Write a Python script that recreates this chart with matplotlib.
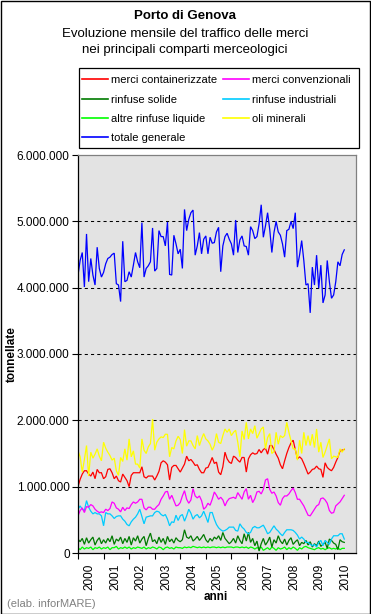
import matplotlib
matplotlib.use("Agg")
import matplotlib.pyplot as plt
from matplotlib.ticker import FuncFormatter, FixedLocator
from matplotlib.patches import Rectangle

plt.rcParams['font.family'] = ['Liberation Sans', 'DejaVu Sans']

# ---- data (million tonnes, monthly Jan 2000 - Jun 2010) ----
years = ["2000", "2001", "2002", "2003", "2004", "2005", "2006", "2007", "2008", "2009", "2010"]

totale_generale = [
    4.19, 4.41, 4.53, 4.01, 4.81, 4.09, 4.44, 4.19, 4.04, 4.61, 4.29, 4.16,
    4.23, 4.36, 4.44, 4.46, 4.50, 4.52, 4.06, 4.04, 3.79, 4.70, 4.09, 4.11,
    4.24, 4.16, 4.34, 4.53, 4.39, 4.30, 4.98, 4.16, 4.29, 4.33, 4.39, 4.90,
    4.25, 4.29, 4.86, 4.77, 4.77, 4.63, 4.99, 4.20, 4.19, 4.79, 4.66, 4.51,
    4.58, 4.29, 5.18, 4.86, 5.03, 5.13, 5.17, 4.49, 4.63, 4.83, 4.51, 4.73,
    4.78, 4.51, 4.76, 4.67, 4.68, 4.84, 4.91, 4.24, 4.63, 4.77, 4.82, 4.73,
    4.66, 4.49, 5.02, 4.53, 4.72, 4.78, 4.63, 4.62, 4.49, 4.92, 4.86, 4.74,
    4.77, 4.96, 5.25, 4.76, 4.93, 5.13, 4.88, 4.53, 4.83, 5.00, 4.84, 4.79,
    4.66, 4.46, 4.86, 4.88, 5.00, 4.89, 5.13, 4.31, 4.49, 4.71, 4.41, 4.04,
    4.06, 3.62, 4.31, 4.04, 4.49, 3.99, 4.34, 3.77, 3.89, 4.41, 4.09, 3.84,
    3.89, 4.09, 4.39, 4.33, 4.50, 4.57,
]

oli_minerali = [
    1.54, 1.45, 1.22, 1.41, 1.62, 1.16, 1.52, 1.43, 1.49, 1.57, 1.46, 1.39,
    1.67, 1.58, 1.52, 1.47, 1.40, 1.43, 1.24, 1.17, 1.44, 1.38, 1.57, 1.40,
    1.72, 1.45, 1.54, 1.34, 1.34, 1.28, 1.72, 1.55, 1.50, 1.60, 1.65, 2.02,
    1.55, 1.67, 1.72, 1.75, 1.74, 1.79, 1.79, 1.45, 1.59, 1.57, 1.69, 1.76,
    1.71, 1.50, 1.86, 1.61, 1.69, 1.69, 1.62, 1.57, 1.77, 1.62, 1.72, 1.80,
    1.72, 1.69, 1.64, 1.55, 1.62, 1.80, 1.67, 1.65, 1.77, 1.87, 1.82, 1.87,
    1.77, 1.82, 1.85, 1.67, 1.45, 1.84, 1.71, 1.97, 1.72, 1.87, 1.80, 1.92,
    1.73, 1.80, 1.87, 1.90, 1.57, 1.74, 1.80, 1.50, 1.53, 1.82, 1.64, 1.77,
    1.74, 1.77, 1.97, 1.82, 1.69, 1.57, 1.57, 1.40, 1.70, 1.50, 1.82, 1.62,
    1.77, 1.62, 1.79, 1.59, 1.87, 1.52, 1.67, 1.44, 1.52, 1.62, 1.72, 1.42,
    1.46, 1.45, 1.44, 1.57, 1.52, 1.57,
]

merci_containerizzate = [
    1.00, 1.11, 1.19, 1.24, 1.24, 1.19, 1.16, 1.22, 1.12, 1.26, 1.21, 1.21,
    1.12, 1.15, 1.26, 1.27, 1.21, 1.12, 1.16, 1.09, 1.07, 1.19, 1.14, 1.09,
    1.00, 1.17, 1.21, 1.21, 1.21, 1.21, 1.30, 1.15, 1.13, 1.16, 1.16, 1.16,
    1.10, 1.16, 1.23, 1.36, 1.39, 1.37, 1.33, 1.10, 1.29, 1.32, 1.32, 1.27,
    1.22, 1.28, 1.34, 1.46, 1.39, 1.41, 1.37, 1.32, 1.33, 1.26, 1.21, 1.21,
    1.28, 1.29, 1.36, 1.44, 1.35, 1.37, 1.22, 1.18, 1.30, 1.52, 1.42, 1.37,
    1.35, 1.46, 1.44, 1.40, 1.37, 1.44, 1.44, 1.22, 1.42, 1.48, 1.51, 1.49,
    1.50, 1.56, 1.51, 1.56, 1.58, 1.49, 1.62, 1.62, 1.56, 1.49, 1.43, 1.33,
    1.27, 1.39, 1.50, 1.59, 1.66, 1.70, 1.56, 1.42, 1.45, 1.42, 1.35, 1.27,
    1.19, 1.22, 1.26, 1.27, 1.31, 1.27, 1.26, 1.14, 1.36, 1.29, 1.26, 1.24,
    1.29, 1.37, 1.44, 1.54, 1.55, 1.56,
]

merci_convenzionali = [
    0.56, 0.64, 0.68, 0.61, 0.70, 0.69, 0.73, 0.71, 0.66, 0.63, 0.61, 0.62,
    0.61, 0.66, 0.64, 0.67, 0.77, 0.75, 0.68, 0.66, 0.62, 0.69, 0.64, 0.68,
    0.67, 0.73, 0.77, 0.75, 0.77, 0.81, 0.81, 0.68, 0.65, 0.69, 0.69, 0.66,
    0.66, 0.70, 0.73, 0.81, 0.86, 0.92, 0.93, 0.81, 0.87, 0.79, 0.71, 0.72,
    0.76, 0.86, 0.94, 0.81, 0.75, 0.80, 0.97, 0.86, 0.83, 0.86, 0.79, 0.66,
    0.69, 0.75, 0.72, 0.81, 0.92, 0.87, 0.81, 0.84, 0.80, 0.71, 0.78, 0.82,
    0.83, 0.84, 0.82, 0.91, 0.86, 0.81, 0.92, 0.97, 0.81, 0.87, 0.76, 0.82,
    0.92, 0.93, 0.89, 0.96, 1.10, 1.12, 0.96, 0.90, 0.92, 0.86, 0.76, 0.72,
    0.82, 0.86, 0.86, 0.89, 0.94, 0.98, 0.91, 0.81, 0.81, 0.76, 0.71, 0.64,
    0.57, 0.56, 0.61, 0.66, 0.71, 0.73, 0.82, 0.83, 0.80, 0.75, 0.64, 0.60,
    0.61, 0.71, 0.74, 0.77, 0.82, 0.87,
]

rinfuse_industriali = [
    0.66, 0.71, 0.66, 0.64, 0.79, 0.69, 0.63, 0.59, 0.61, 0.59, 0.59, 0.56,
    0.41, 0.61, 0.59, 0.59, 0.56, 0.52, 0.55, 0.56, 0.56, 0.51, 0.48, 0.43,
    0.41, 0.47, 0.51, 0.54, 0.59, 0.66, 0.55, 0.44, 0.54, 0.55, 0.56, 0.56,
    0.61, 0.63, 0.62, 0.58, 0.56, 0.58, 0.51, 0.41, 0.47, 0.46, 0.57, 0.49,
    0.56, 0.58, 0.48, 0.56, 0.66, 0.60, 0.51, 0.56, 0.58, 0.53, 0.56, 0.63,
    0.55, 0.46, 0.61, 0.61, 0.51, 0.43, 0.38, 0.35, 0.33, 0.34, 0.36, 0.39,
    0.39, 0.39, 0.34, 0.33, 0.44, 0.39, 0.36, 0.31, 0.29, 0.31, 0.38, 0.40,
    0.38, 0.38, 0.40, 0.42, 0.36, 0.29, 0.31, 0.36, 0.41, 0.36, 0.33, 0.29,
    0.26, 0.31, 0.35, 0.35, 0.35, 0.34, 0.31, 0.27, 0.21, 0.24, 0.21, 0.16,
    0.16, 0.13, 0.11, 0.13, 0.09, 0.16, 0.19, 0.11, 0.19, 0.16, 0.13, 0.21,
    0.26, 0.26, 0.26, 0.29, 0.29, 0.21,
]

rinfuse_solide = [
    0.21, 0.17, 0.22, 0.13, 0.23, 0.15, 0.20, 0.24, 0.12, 0.19, 0.23, 0.14,
    0.20, 0.15, 0.22, 0.17, 0.26, 0.13, 0.21, 0.18, 0.24, 0.14, 0.22, 0.16,
    0.25, 0.12, 0.23, 0.18, 0.26, 0.15, 0.21, 0.25, 0.11, 0.22, 0.30, 0.17,
    0.20, 0.14, 0.24, 0.16, 0.22, 0.13, 0.25, 0.17, 0.21, 0.15, 0.23, 0.19,
    0.17, 0.20, 0.35, 0.24, 0.22, 0.26, 0.18, 0.21, 0.25, 0.19, 0.23, 0.28,
    0.20, 0.16, 0.22, 0.18, 0.24, 0.21, 0.26, 0.19, 0.31, 0.22, 0.18, 0.14,
    0.17, 0.22, 0.15, 0.26, 0.19, 0.14, 0.29, 0.18, 0.31, 0.16, 0.22, 0.11,
    0.18, 0.03, 0.14, 0.22, 0.12, 0.17, 0.24, 0.09, 0.20, 0.15, 0.26, 0.18,
    0.14, 0.21, 0.12, 0.19, 0.23, 0.13, 0.17, 0.20, 0.11, 0.16, 0.14, 0.19,
    0.12, 0.17, 0.09, 0.14, 0.11, 0.18, 0.10, 0.13, 0.16, 0.07, 0.21, 0.19,
    0.15, 0.13, 0.05, 0.20, 0.17, 0.16,
]

altre_rinfuse_liquide = [
    0.08, 0.05, 0.09, 0.06, 0.08, 0.07, 0.09, 0.05, 0.08, 0.07, 0.09, 0.06,
    0.08, 0.07, 0.09, 0.05, 0.08, 0.08, 0.10, 0.06, 0.08, 0.07, 0.09, 0.07,
    0.09, 0.06, 0.08, 0.07, 0.09, 0.08, 0.07, 0.09, 0.06, 0.08, 0.07, 0.09,
    0.08, 0.06, 0.09, 0.08, 0.05, 0.08, 0.09, 0.07, 0.08, 0.06, 0.09, 0.08,
    0.08, 0.07, 0.09, 0.08, 0.09, 0.08, 0.10, 0.09, 0.08, 0.09, 0.08, 0.09,
    0.08, 0.09, 0.08, 0.09, 0.09, 0.08, 0.09, 0.08, 0.09, 0.08, 0.09, 0.09,
    0.09, 0.08, 0.09, 0.09, 0.08, 0.09, 0.08, 0.09, 0.07, 0.09, 0.08, 0.06,
    0.08, 0.07, 0.09, 0.04, 0.06, 0.08, 0.05, 0.09, 0.07, 0.04, 0.08, 0.06,
    0.07, 0.09, 0.05, 0.08, 0.06, 0.09, 0.07, 0.04, 0.08, 0.06, 0.09, 0.10,
    0.08, 0.07, 0.06, 0.05, 0.07, 0.08, 0.06, 0.07, 0.05, 0.07, 0.08, 0.06,
    0.07, 0.06, 0.08, 0.05, 0.07, 0.07,
]

series = [
    ("merci containerizzate", merci_containerizzate, "#FF0000"),
    ("merci convenzionali", merci_convenzionali, "#FF00FF"),
    ("rinfuse solide", rinfuse_solide, "#007A00"),
    ("rinfuse industriali", rinfuse_industriali, "#00CCFF"),
    ("altre rinfuse liquide", altre_rinfuse_liquide, "#00FF00"),
    ("oli minerali", oli_minerali, "#FFFF00"),
    ("totale generale", totale_generale, "#0000FF"),
]
draw_order = ["altre rinfuse liquide", "rinfuse solide", "rinfuse industriali",
              "merci convenzionali", "merci containerizzate", "oli minerali", "totale generale"]

W, H = 371, 614
fig = plt.figure(figsize=(W / 100, H / 100), dpi=100)
fig.patch.set_facecolor("white")
fig.add_artist(Rectangle((0.5 / W, 0.5 / H), 1 - 1.5 / W, 1 - 1.5 / H, transform=fig.transFigure,
                         fill=False, edgecolor="black", linewidth=1.0))

ax_l, ax_r, ax_t, ax_b = 78, 356, 155, 553
ax = fig.add_axes([ax_l / W, 1 - ax_b / H, (ax_r - ax_l) / W, (ax_b - ax_t) / H])
ax.set_facecolor("#E3E3E3")

handles = {}
for name in draw_order:
    for lab, vals, col in series:
        if lab == name:
            x = list(range(len(vals)))
            y = [v * 1e6 for v in vals]
            ln, = ax.plot(x, y, color=col, linewidth=0.9, label=lab, solid_joinstyle="miter")
            handles[lab] = ln

ax.set_xlim(0, 130.5)
ax.set_ylim(0, 6e6)

for v in range(1, 6):
    ax.axhline(v * 1e6, color="black", linewidth=0.75, linestyle=(0, (3, 3)), zorder=1)

ax.yaxis.set_major_locator(FixedLocator([i * 1e6 for i in range(7)]))
ax.yaxis.set_major_formatter(FuncFormatter(lambda v, p: f"{int(round(v)):,}".replace(",", ".")))
ax.tick_params(axis="y", direction="out", length=4, width=0.8, labelsize=8.5, pad=2, colors="black")

ax.xaxis.set_major_locator(FixedLocator([12 * i for i in range(11)]))
ax.xaxis.set_major_formatter(FuncFormatter(lambda v, p: ""))
ax.xaxis.set_minor_locator(FixedLocator([12 * i + 5.5 for i in range(len(years))]))
ax.set_xticklabels(years, minor=True, rotation=90, fontsize=8.5)
ax.tick_params(axis="x", which="major", direction="out", length=4, width=0.8)
ax.tick_params(axis="x", which="minor", length=0, pad=8)
for t in ax.get_xticklabels(minor=True):
    t.set_verticalalignment("top")

for s in ["left", "bottom"]:
    ax.spines[s].set_color("black")
    ax.spines[s].set_linewidth(0.9)
for s in ["top", "right"]:
    ax.spines[s].set_color("#808080")
    ax.spines[s].set_linewidth(0.9)

# titles
fig.text(185 / W, 1 - 16 / H, "Porto di Genova", ha="center", va="center", fontsize=9.5, fontweight="bold")
fig.text(185 / W, 1 - 34 / H, "Evoluzione mensile del traffico delle merci", ha="center", va="center", fontsize=9.5)
fig.text(185 / W, 1 - 50 / H, "nei principali comparti merceologici", ha="center", va="center", fontsize=9.5)

fig.text(12 / W, 1 - 354 / H, "tonnellate", rotation=90, ha="center", va="center", fontsize=8.5, fontweight="bold")
fig.text(216 / W, 1 - 597 / H, "anni", ha="center", va="center", fontsize=8.5, fontweight="bold")
fig.text(7 / W, 1 - 604 / H, "(elab. inforMARE)", ha="left", va="center", fontsize=8, color="#808080")

# legend frame (box) and legend entries (two columns, row order as in the reference)
fig.add_artist(Rectangle((78.5 / W, 1 - 147.5 / H), 280 / W, 79 / H, transform=fig.transFigure,
                         facecolor="white", edgecolor="black", linewidth=0.9, zorder=2))
order = ["merci containerizzate", "rinfuse solide", "altre rinfuse liquide", "totale generale",
         "merci convenzionali", "rinfuse industriali", "oli minerali"]
leg = fig.legend([handles[k] for k in order], order, ncol=2, loc="upper left",
                 bbox_to_anchor=(79 / W, 1 - 72 / H), bbox_transform=fig.transFigure,
                 fontsize=8, frameon=False,
                 handlelength=2.35, handletextpad=0.27, labelspacing=0.84, columnspacing=0.45,
                 borderpad=0.3, borderaxespad=0)
leg.set_zorder(3)
for l in leg.get_lines():
    l.set_linewidth(1.2)

fig.savefig("out.png", dpi=100)
